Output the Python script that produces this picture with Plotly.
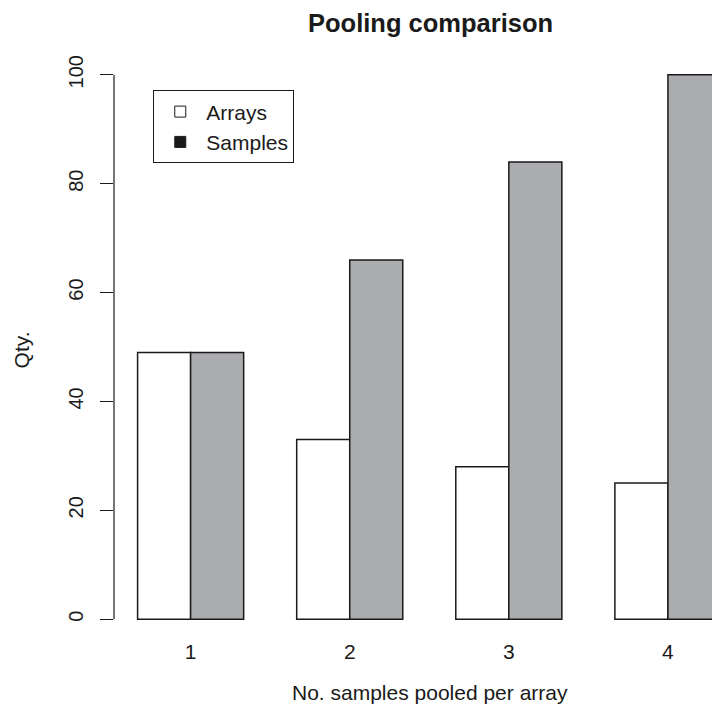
import plotly.graph_objects as go

# ---- data ----
categories = ["1", "2", "3", "4"]
arrays = [49, 33, 28, 25]
samples = [49, 66, 84, 100]
y_ticks = [0, 20, 40, 60, 80, 100]
series_names = ["Arrays", "Samples"]

# ---- layout constants (page pixels) ----
W_FIG, H_FIG = 712, 708
L = 113.7
T = 52.5
B = 708 - 641.3
R = 0
PW = W_FIG - L - R
PH = H_FIG - T - B
FONT = "Liberation Sans, Arial, Helvetica, sans-serif"
TXT = "#1a1a1a"
GREY = "#ABACB0"


def px_x(px):
    return (px - L) / PW


def px_y(py):
    return (H_FIG - B - py) / PH


fig = go.Figure()
fig.add_trace(go.Bar(x=categories, y=arrays, name=series_names[0], showlegend=False,
                     marker=dict(color="white", line=dict(color=TXT, width=1.5))))
fig.add_trace(go.Bar(x=categories, y=samples, name=series_names[1], showlegend=False,
                     marker=dict(color=GREY, line=dict(color=TXT, width=1.5))))

# legend entries (filled squares as in the original legend)
for name, col in zip(series_names, ["white", TXT]):
    fig.add_trace(go.Scatter(x=[None], y=[None], mode="markers", name=name,
                             marker=dict(symbol="square", size=11, color=col,
                                         line=dict(color=TXT, width=1))))

fig.update_layout(
    width=W_FIG, height=H_FIG,
    margin=dict(l=L, r=R, t=T, b=B, pad=0),
    paper_bgcolor="white", plot_bgcolor="white",
    font=dict(family=FONT, size=21, color=TXT),
    barmode="group", bargap=1 / 3, bargroupgap=0,
    showlegend=True,
    legend=dict(x=px_x(153), y=px_y(90), xanchor="left", yanchor="top",
                bgcolor="white", bordercolor=TXT, borderwidth=1,
                itemwidth=42,
                font=dict(size=21, family=FONT, color=TXT),
                itemclick=False, itemdoubleclick=False),
    xaxis=dict(type="category", range=[-0.4816, 3.277], showgrid=False,
               zeroline=False, showline=False, ticks="",
               tickfont=dict(size=21), ticklabelstandoff=-4),
    yaxis=dict(range=[-4, 104], tickvals=y_ticks, showgrid=False, zeroline=False,
               showline=False, ticks="outside", ticklen=13, tickwidth=1.2,
               tickcolor=TXT, tickangle=-90, tickfont=dict(size=20),
               ticklabelstandoff=9),
    shapes=[dict(type="line", xref="paper", yref="y", x0=0, x1=0,
                 y0=y_ticks[0], y1=y_ticks[-1], line=dict(color=TXT, width=1.2))],
    annotations=[
        dict(text="<b>Pooling comparison</b>", xref="paper", yref="paper",
             x=px_x(430), y=px_y(22), xanchor="center", yanchor="middle",
             showarrow=False, font=dict(size=25.5, family=FONT, color=TXT)),
        dict(text="No. samples pooled per array", xref="paper", yref="paper",
             x=px_x(430), y=px_y(693), xanchor="center", yanchor="middle",
             showarrow=False, font=dict(size=21, family=FONT, color=TXT)),
        dict(text="Qty.", xref="paper", yref="paper", textangle=-90,
             x=px_x(21), y=px_y(350), xanchor="center", yanchor="middle",
             showarrow=False, font=dict(size=21, family=FONT, color=TXT)),
    ],
)

fig.write_html(
    "out.html",
    config={"displayModeBar": False},
    post_script="document.body.style.margin='0';document.body.style.overflow='hidden';",
)
